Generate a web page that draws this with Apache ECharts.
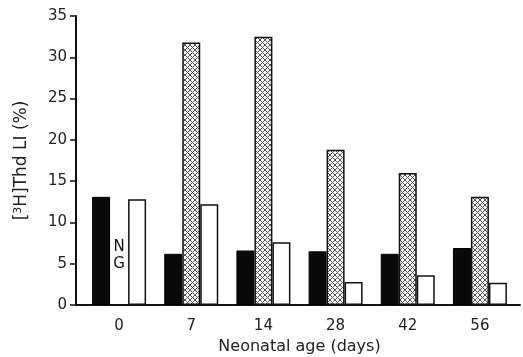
<!DOCTYPE html>
<html>
<head>
<meta charset="utf-8">
<script src="https://cdn.jsdelivr.net/npm/echarts@6/dist/echarts.min.js"></script>
<style>
  html, body { margin: 0; padding: 0; background: #fff; }
  #chart { width: 523px; height: 357px; }
</style>
</head>
<body>
<div id="chart"></div>
<script>
  // neonatal age groups (days)
  var ages = ['0', '7', '14', '28', '42', '56'];
  // labelling index per group
  var blackVals = [13.1, 6.2, 6.6, 6.5, 6.2, 6.9];
  var hatchVals = [null, 31.8, 32.5, 18.8, 16.0, 13.1];
  var whiteVals = [12.8, 12.2, 7.6, 2.8, 3.6, 2.7];
  var yTicks = [0, 5, 10, 15, 20, 25, 30, 35];

  var FONT = 'DejaVu Sans, sans-serif';

  // cross-hatch fill
  function hatch() {
    var c = document.createElement('canvas');
    c.width = 5; c.height = 5;
    var g = c.getContext('2d');
    g.fillStyle = '#fff';
    g.fillRect(0, 0, 5, 5);
    g.strokeStyle = '#555';
    g.lineWidth = 1;
    g.beginPath();
    g.moveTo(0, 0); g.lineTo(5, 5);
    g.moveTo(5, 0); g.lineTo(0, 5);
    g.stroke();
    return c;
  }

  var myChart = echarts.init(document.getElementById('chart'));
  myChart.setOption({
    animation: false,
    grid: [
      {left: 83, right: 7, top: 16, bottom: 52, outerBoundsMode: 'none', containLabel: false},
      {left: 76, right: 3, top: 16, bottom: 52, outerBoundsMode: 'none', containLabel: false}
    ],
    xAxis: [
      {
        type: 'category',
        gridIndex: 0,
        data: ages,
        axisLine: {show: false},
        axisTick: {show: false},
        axisLabel: {color: '#222', fontSize: 15, fontFamily: FONT, margin: 14},
        name: 'Neonatal age (days)',
        nameLocation: 'middle',
        nameGap: 32,
        nameTextStyle: {color: '#222', fontSize: 16, fontFamily: FONT}
      },
      {
        type: 'value',
        gridIndex: 1,
        min: 0, max: 1,
        axisLine: {show: true, onZero: false, lineStyle: {color: '#111', width: 2}},
        axisTick: {show: false},
        axisLabel: {show: false},
        splitLine: {show: false}
      }
    ],
    yAxis: [
      {
        type: 'value',
        gridIndex: 0,
        min: 0, max: 35, interval: 5,
        offset: 7,
        axisLine: {show: true, lineStyle: {color: '#111', width: 2}},
        axisTick: {show: true, length: 6, lineStyle: {color: '#111', width: 1.5}},
        axisLabel: {
          color: '#222', fontSize: 15, fontFamily: FONT, margin: 9,
          formatter: function (v) { return yTicks.indexOf(v) >= 0 ? String(v) : ''; }
        },
        splitLine: {show: false},
        name: '{a|[}{s|3}{a|H]Thd LI (%)}',
        nameLocation: 'middle',
        nameGap: 46,
        nameTextStyle: {
          rich: {
            a: {color: '#222', fontSize: 17, fontFamily: FONT},
            s: {color: '#222', fontSize: 11, fontFamily: FONT, verticalAlign: 'top', padding: [0, 0, 6, 0]}
          }
        }
      },
      {
        type: 'value',
        gridIndex: 1,
        show: false
      }
    ],
    series: [
      {
        name: 'black',
        type: 'bar',
        barWidth: 18,
        barGap: '0%',
        itemStyle: {color: '#0a0a0a', borderColor: '#000', borderWidth: 1},
        data: blackVals
      },
      {
        name: 'hatched',
        type: 'bar',
        barWidth: 18,
        barGap: '0%',
        itemStyle: {color: {image: hatch(), repeat: 'repeat'}, borderColor: '#111', borderWidth: 1.5},
        data: hatchVals,
        markPoint: {
          symbol: 'circle',
          symbolSize: 0,
          label: {
            show: true, formatter: 'N\nG', color: '#111',
            fontSize: 15, fontFamily: FONT, lineHeight: 17
          },
          data: [{coord: ['0', 6.0]}]
        }
      },
      {
        name: 'white',
        type: 'bar',
        barWidth: 18,
        barGap: '0%',
        itemStyle: {color: '#fff', borderColor: '#111', borderWidth: 1.5},
        data: whiteVals
      }
    ]
  });
</script>
</body>
</html>
